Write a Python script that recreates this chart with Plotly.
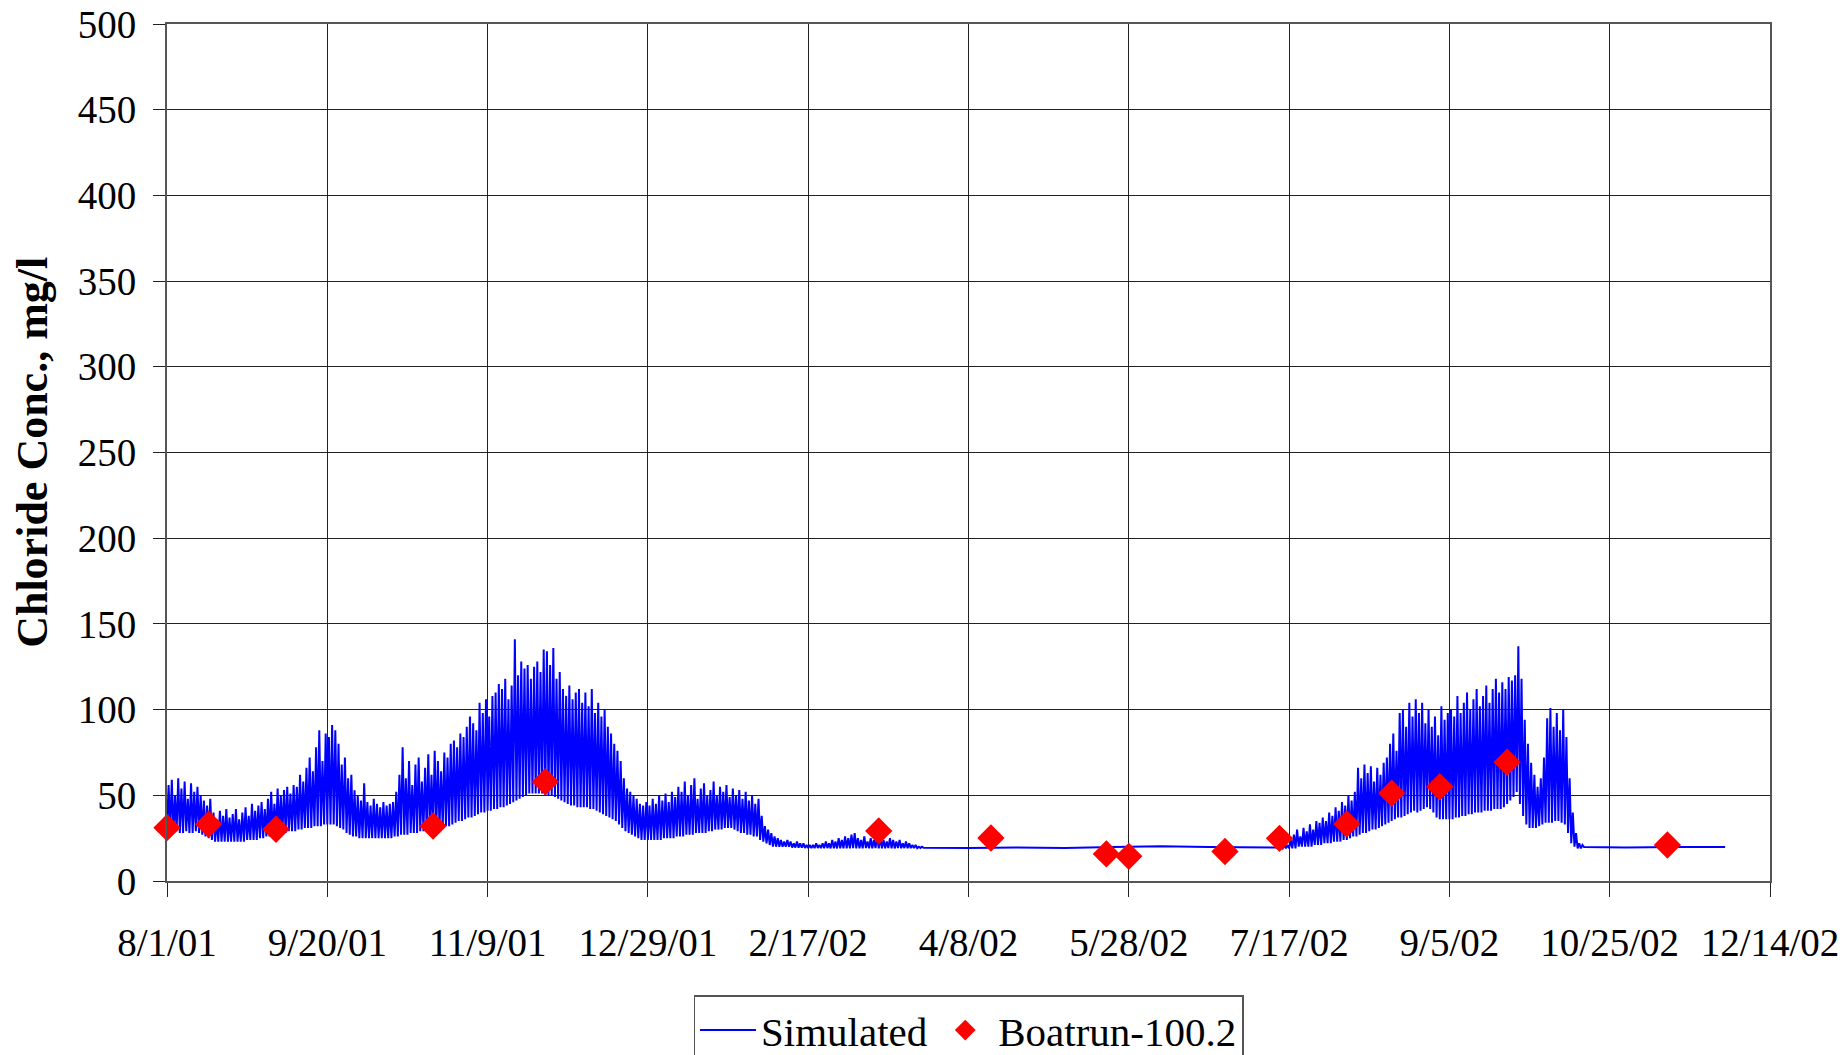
import pandas as pd
import plotly.graph_objects as go

# ---------------------------------------------------------------------------
# Simulated chloride, Aug 2001 - Dec 2002 (mg/l).
# Tidal record kept as daily trough / crest pairs; day 0 = 2001-08-01.
# ---------------------------------------------------------------------------
start_date = pd.Timestamp("2001-08-01")

# days 0 .. 235
sim_low_a = [
    30, 29, 28, 29, 28, 28, 29, 28, 28, 29,
    28, 27, 26, 25, 24, 23, 23, 23, 23, 23,
    23, 23, 23, 23, 23, 24, 24, 24, 24, 25,
    25, 26, 26, 27, 27, 28, 28, 28, 29, 29,
    29, 30, 30, 31, 31, 31, 32, 32, 32, 33,
    33, 33, 33, 32, 31, 30, 28, 27, 26, 26,
    25, 25, 25, 25, 25, 25, 25, 25, 25, 25,
    25, 26, 26, 27, 27, 27, 28, 28, 28, 29,
    29, 29, 30, 30, 30, 31, 31, 32, 32, 33,
    34, 35, 35, 36, 37, 37, 38, 39, 40, 40,
    41, 41, 42, 42, 43, 43, 44, 45, 46, 47,
    48, 49, 50, 51, 51, 51, 51, 51, 50, 50,
    50, 49, 48, 47, 46, 45, 44, 44, 43, 43,
    43, 43, 42, 42, 41, 40, 39, 38, 37, 36,
    35, 33, 31, 29, 28, 27, 26, 25, 24, 24,
    24, 24, 24, 24, 24, 25, 25, 25, 25, 26,
    26, 26, 27, 27, 27, 28, 28, 28, 28, 29,
    29, 30, 30, 30, 31, 31, 31, 30, 29, 28,
    28, 27, 27, 26, 26, 24, 23, 22, 21, 20,
    20, 20, 20, 20, 20, 19.5, 19.5, 19.4, 19.4, 19.3,
    19.3, 19.2, 19.2, 19.3, 19.2, 19.1, 19.2, 19.0, 19.1, 19.0,
    19.1, 19.0, 19.1, 19.0, 19.2, 19.0, 19.1, 19.0, 19.2, 19.1,
    19.0, 19.2, 19.1, 19.0, 19.1, 19.2, 19.1, 19.0, 19.2, 19.1,
    19.2, 19.1, 19.2, 19.3, 19.2, 19.3,
]
sim_high_a = [
    56, 59, 50, 60, 54, 58, 48, 57, 52, 55,
    50, 47, 44, 48, 40, 36, 41, 38, 42, 37,
    39, 42, 36, 40, 43, 38, 45, 41, 44, 46,
    42, 48, 52, 45, 54, 50, 53, 55, 51, 56,
    55, 62, 58, 66, 72, 64, 78, 88, 70, 86,
    84, 91, 88, 80, 68, 72, 60, 62, 53, 50,
    47, 57, 46, 44, 48, 45, 43, 46, 44, 45,
    46, 52, 62, 78, 60, 70, 56, 68, 72, 58,
    66, 74, 62, 76, 70, 64, 75, 72, 80, 82,
    78, 86, 84, 90, 96, 92, 88, 104, 98, 106,
    96, 108, 110, 115, 112, 118, 106, 114, 141, 120,
    128, 124, 126, 118, 125, 128, 122, 135, 134, 126,
    136, 118, 122, 112, 108, 114, 106, 110, 112, 104,
    110, 102, 112, 98, 104, 96, 100, 90, 86, 80,
    76, 70, 60, 54, 52, 50, 48, 45, 44, 46,
    44, 48, 45, 50, 47, 51, 46, 52, 49, 55,
    52, 58, 50, 56, 60, 48, 54, 57, 50, 53,
    58, 50, 55, 52, 56, 49, 54, 50, 53, 48,
    52, 47, 50, 45, 48, 38, 32, 30, 28, 26,
    25, 24, 23, 24, 23, 22, 23, 22, 22, 21,
    21, 21, 22, 21, 22, 23, 22, 24, 23, 25,
    24, 26, 25, 27, 28, 25, 24, 26, 23, 25,
    24, 26, 25, 24, 23, 25, 24, 23, 24, 22,
    23, 22, 21, 21, 20, 20,
]

# quiet spring stretch
sim_flat_b_days = [236, 250, 265, 280, 295, 310, 325, 340, 346]
sim_flat_b = [19.4, 19.2, 19.5, 19.3, 19.8, 20.3, 19.9, 19.4, 19.5]

# days 347 .. 441
sim_low_c = [
    19, 19, 19,
    19, 19, 19, 20, 20, 20, 20, 20, 21, 21,
    21, 22, 22, 22, 23, 23, 23, 24, 24, 25,
    26, 26, 27, 28, 28, 29, 30, 30, 31, 32,
    33, 34, 35, 36, 37, 37, 38, 39, 40, 41,
    40, 41, 42, 43, 42, 40, 37, 36, 36, 36,
    36, 36, 37, 37, 38, 38, 39, 39, 40, 40,
    40, 41, 41, 41, 42, 42, 42, 43, 45, 47,
    49, 52, 45, 38, 33, 31, 31, 31, 32, 33,
    34, 34, 34, 35, 35, 34, 33, 28, 22, 20, 19, 19,
]
sim_high_c = [
    20, 21, 21,
    24, 27, 30, 26, 31, 29, 33, 30, 35, 34,
    37, 35, 40, 38, 43, 41, 46, 44, 50, 47,
    52, 66, 60, 68, 63, 67, 58, 66, 62, 69,
    72, 80, 86, 76, 98, 100, 90, 104, 96, 106,
    98, 104, 92, 100, 90, 96, 85, 102, 94, 98,
    100, 96, 108, 98, 104, 110, 100, 106, 112, 102,
    108, 114, 104, 112, 118, 110, 116, 112, 119, 117,
    120, 137, 118, 94, 80, 69, 62, 55, 60, 72,
    95, 101, 90, 98, 88, 100, 84, 60, 40, 28, 22, 21,
]

# late-autumn tail
sim_flat_d_days = [442, 455, 470, 486]
sim_flat_d = [19.8, 19.6, 19.9, 19.9]

# ---------------------------------------------------------------------------
# Boatrun-100.2 grab samples
# ---------------------------------------------------------------------------
obs_dates = [
    "2001-08-01", "2001-08-14", "2001-09-04", "2001-10-23", "2001-11-27",
    "2002-03-11", "2002-04-15", "2002-05-21", "2002-05-28", "2002-06-27",
    "2002-07-14", "2002-08-04", "2002-08-18", "2002-09-02", "2002-09-23",
    "2002-11-12",
]
obs_values = [
    31.1, 33.1, 30.2, 32.1, 57.9,
    29.2, 25.1, 15.8, 14.4, 17.2,
    24.9, 33.3, 51.2, 55.0, 69.3,
    21.0,
]

tick_dates = [
    "2001-08-01", "2001-09-20", "2001-11-09", "2001-12-29", "2002-02-17",
    "2002-04-08", "2002-05-28", "2002-07-17", "2002-09-05", "2002-10-25",
    "2002-12-14",
]
tick_labels = [
    "8/1/01", "9/20/01", "11/9/01", "12/29/01", "2/17/02",
    "4/8/02", "5/28/02", "7/17/02", "9/5/02", "10/25/02",
    "12/14/02",
]


def day_to_date(d):
    return start_date + pd.Timedelta(hours=24 * d)


def tidal(first_day, lows, highs):
    xs, ys = [], []
    for i, (lo, hi) in enumerate(zip(lows, highs)):
        xs.append(day_to_date(first_day + i))
        ys.append(lo)
        xs.append(day_to_date(first_day + i + 0.5))
        ys.append(hi)
    return xs, ys


sim_x, sim_y = [], []
xa, ya = tidal(0, sim_low_a, sim_high_a)
sim_x += xa
sim_y += ya
sim_x += [day_to_date(d) for d in sim_flat_b_days]
sim_y += sim_flat_b
xc, yc = tidal(347, sim_low_c, sim_high_c)
sim_x += xc
sim_y += yc
sim_x += [day_to_date(d) for d in sim_flat_d_days]
sim_y += sim_flat_d

FONT = "Liberation Serif, Times New Roman, serif"

fig = go.Figure()
fig.add_trace(go.Scatter(
    x=sim_x, y=sim_y, mode="lines", name="Simulated",
    line=dict(color="#0000FF", width=2),
))
fig.add_trace(go.Scatter(
    x=pd.to_datetime(obs_dates), y=obs_values, mode="markers",
    name="Boatrun-100.2",
    marker=dict(symbol="diamond", size=21, color="#FF0000"),
    cliponaxis=False,
))

fig.update_layout(
    width=1847, height=1055,
    margin=dict(l=167, r=77, t=24, b=174),
    paper_bgcolor="white", plot_bgcolor="white",
    font=dict(family=FONT, size=39, color="black"),
    showlegend=True,
    legend=dict(
        orientation="h",
        xref="paper", x=0.5, xanchor="center",
        yref="container", y=0.0565, yanchor="top",
        bordercolor="#555555", borderwidth=1.5, bgcolor="white",
        font=dict(family=FONT, size=41, color="black"),
        itemwidth=56, tracegroupgap=0,
    ),
    annotations=[dict(
        text="<b>Chloride Conc., mg/l</b>", textangle=-90,
        xref="paper", yref="paper", x=-0.084, y=0.5,
        xanchor="center", yanchor="middle", showarrow=False,
        font=dict(family=FONT, size=44, color="black"),
    )],
)

fig.update_xaxes(
    type="date",
    range=["2001-08-01", "2002-12-14"],
    tickmode="array", tickvals=tick_dates, ticktext=tick_labels,
    ticks="outside", ticklen=14, tickcolor="#222222", tickwidth=1,
    ticklabelstandoff=12,
    showgrid=True, gridcolor="#222222", gridwidth=1,
    showline=True, linecolor="#555555", linewidth=2, mirror=True,
    zeroline=False, automargin=False,
)
fig.update_yaxes(
    range=[0, 500], tick0=0, dtick=50,
    ticks="outside", ticklen=12, tickcolor="#222222", tickwidth=1,
    ticklabelstandoff=9,
    showgrid=True, gridcolor="#222222", gridwidth=1,
    showline=True, linecolor="#555555", linewidth=2, mirror=True,
    zeroline=False, automargin=False,
)

fig.write_html("out.html")
